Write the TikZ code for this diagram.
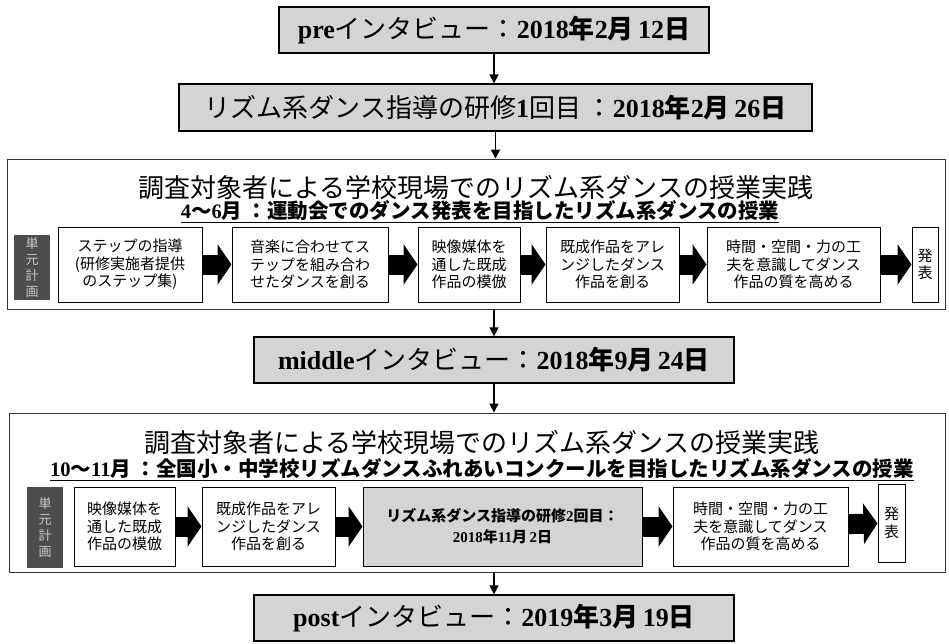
\documentclass[tikz,border=0pt]{standalone}
\usepackage{fontspec}
\setmainfont{Noto Sans CJK JP}
\newfontfamily\tnr{Liberation Serif}
\newcommand\tn[1]{{\tnr\bfseries #1}}
\usetikzlibrary{arrows.meta}
\definecolor{boxgray}{HTML}{D4D4D4}
\definecolor{darkbox}{HTML}{4D4D4D}
\definecolor{darktext}{HTML}{C8C8C8}
\definecolor{framegray}{HTML}{333333}
\newcommand\bx[7]{\node[#6, minimum width={(#4-#2)*1pt}, minimum height={(#5-#3)*1pt}] (#1) at ({(#2+#4)/2},{(#3+#5)/2}) {#7};}
\tikzset{
  interview/.style={draw=black, line width=1.3pt, fill=boxgray, inner sep=0pt, font=\fontsize{26}{30}\selectfont},
  framebox/.style={draw=framegray, line width=1pt, inner sep=0pt},
  stepbox/.style={draw=black, line width=1pt, fill=white, inner sep=0pt, align=center, font=\fontsize{15}{17.5}\selectfont},
  graystep/.style={stepbox, fill=boxgray, font=\bfseries\fontsize{15}{21}\selectfont},
  unitbox/.style={fill=darkbox, draw=none, text=darktext, align=center, inner sep=0pt, font=\fontsize{13}{16}\selectfont},
  titletext/.style={inner sep=0pt, font=\fontsize{26}{30}\selectfont},
  subtext/.style={inner sep=0pt, font=\bfseries\fontsize{20.5}{24}\selectfont},
  vflow/.style={line width=1.5pt, -{Triangle[length=9pt 0, width=9pt 0]}},
  barrow/.style={line width=20pt, -{Triangle[length=14pt 0, width=40pt 0]}}
}
\begin{document}
\begin{tikzpicture}[x=1pt, y=-1pt]
\fill[white] (0,0) rectangle (949,643);
\useasboundingbox (0,0) rectangle (949,643);

% frames
\bx{frame1}{7}{159}{945}{309}{framebox}{}
\bx{frame2}{9}{413}{945}{572}{framebox}{}

% interview boxes
\bx{pre}{279}{7}{709}{53}{interview}{\tn{pre}インタビュー：\tn{2018}{\bfseries 年}\tn{2}{\bfseries 月}\,\tn{12}{\bfseries 日}}
\bx{train1}{179}{84}{812}{131}{interview}{リズム系ダンス指導の研修\tn{1}回目\ ：\tn{2018}{\bfseries 年}\tn{2}{\bfseries 月}\,\tn{26}{\bfseries 日}}
\bx{mid}{254}{337}{734}{383}{interview}{\tn{middle}インタビュー：\tn{2018}{\bfseries 年}\tn{9}{\bfseries 月}\,\tn{24}{\bfseries 日}}
\bx{post}{254}{595}{734}{641}{interview}{\tn{post}インタビュー：\tn{2019}{\bfseries 年}\tn{3}{\bfseries 月}\,\tn{19}{\bfseries 日}}

% block 1 titles
\node[titletext] (t1) at (476,188) {調査対象者による学校現場でのリズム系ダンスの授業実践};
\node[subtext] (s1) at (480,212) {\underline{\tn{4}〜\tn{6}月\ ：運動会でのダンス発表を目指したリズム系ダンスの授業}};

% block 1 row
\bx{u1}{14}{235}{50}{300}{unitbox}{単\\元\\計\\画}
\bx{a1}{58}{227}{202}{302}{stepbox}{ステップの指導\\(研修実施者提供\\のステップ集)}
\bx{a2}{232}{227}{388}{302}{stepbox}{音楽に合わせてス\\テップを組み合わ\\せたダンスを創る}
\bx{a3}{418}{227}{520}{302}{stepbox}{映像媒体を\\通した既成\\作品の模倣}
\bx{a4}{546}{227}{679}{302}{stepbox}{既成作品をアレ\\ンジしたダンス\\作品を創る}
\bx{a5}{707}{227}{880}{302}{stepbox}{時間・空間・力の工\\夫を意識してダンス\\作品の質を高める}
\bx{a6}{912}{227}{938}{302}{stepbox}{発\\表}
\draw[barrow] (a1) -- (a2);
\draw[barrow] (a2) -- (a3);
\draw[barrow] (a3) -- (a4);
\draw[barrow] (a4) -- (a5);
\draw[barrow] (a5) -- (a6);

% block 2 titles
\node[titletext] (t2) at (482,443) {調査対象者による学校現場でのリズム系ダンスの授業実践};
\node[subtext] (s2) at (482,470) {\underline{\tn{10}〜\tn{11}月\ ：全国小・中学校リズムダンスふれあいコンクールを目指したリズム系ダンスの授業}};

% block 2 row
\bx{u2}{27}{487}{63}{568}{unitbox}{単\\元\\計\\画}
\bx{c1}{74}{487}{175}{566}{stepbox}{映像媒体を\\通した既成\\作品の模倣}
\bx{c2}{202}{487}{335}{566}{stepbox}{既成作品をアレ\\ンジしたダンス\\作品を創る}
\bx{c3}{363}{487}{642}{566}{graystep}{リズム系ダンス指導の研修\tn{2}回目：\\\tn{2018}年\tn{11}月\,\tn{2}日}
\bx{c4}{673}{487}{848}{566}{stepbox}{時間・空間・力の工\\夫を意識してダンス\\作品の質を高める}
\bx{c5}{878}{484}{905}{562}{stepbox}{発\\表}
\draw[barrow] (c1) -- (c2);
\draw[barrow] (c2) -- (c3);
\draw[barrow] (c3) -- (c4);
\draw[barrow] (c4) -- (c5);

% vertical connectors
\draw[vflow] (pre.south) -- (pre.south |- train1.north);
\draw[vflow] (train1.south) -- (train1.south |- frame1.north);
\draw[vflow] (mid.north |- frame1.south) -- (mid.north);
\draw[vflow] (mid.south) -- (mid.south |- frame2.north);
\draw[vflow] (post.north |- frame2.south) -- (post.north);
\end{tikzpicture}
\end{document}
